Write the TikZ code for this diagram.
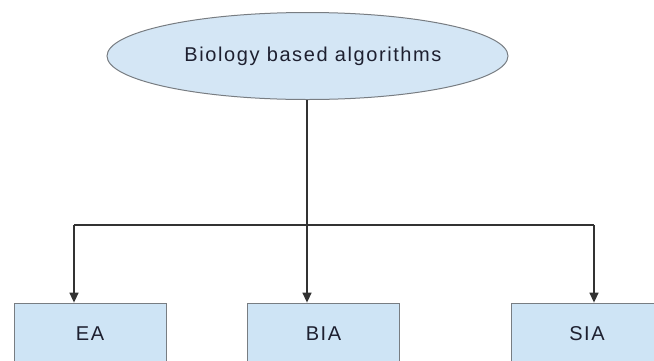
\documentclass[tikz,border=0pt]{standalone}
\usepackage{fontspec}
\setmainfont{Liberation Sans}[LetterSpace=8]
\usetikzlibrary{arrows.meta,shapes.geometric}
\definecolor{ellfill}{RGB}{212,230,245}
\definecolor{boxfill}{RGB}{206,228,245}
\definecolor{edgegrey}{RGB}{120,125,130}
\definecolor{linegrey}{RGB}{50,50,50}
\definecolor{txt}{RGB}{30,32,48}
\tikzset{
  rootell/.style={ellipse, draw=edgegrey, fill=ellfill, line width=1pt, minimum width=401pt, minimum height=87pt, inner sep=0pt, text=txt, font=\fontsize{20pt}{24pt}\selectfont},
  leafbox/.style={rectangle, draw=edgegrey, fill=boxfill, line width=0.8pt, minimum width=152pt, minimum height=62pt, inner sep=0pt, text=txt, font=\fontsize{20pt}{24pt}\selectfont},
  conn/.style={draw=linegrey, line width=1.4pt},
  arr/.style={conn, -{Triangle[length=10pt,width=9pt]}}
}
\begin{document}
\begin{tikzpicture}[x=1pt,y=-1pt]
\useasboundingbox (0,0) rectangle (654,360);
\begin{scope}
\clip (0,0) rectangle (654,360);
\node[rootell] (root) at (307.5,56) {\makebox[0pt]{\kern11pt Biology based algorithms}};
\node[leafbox] (ea) at (90,334) {EA};
\node[leafbox] (bia) at (323.5,334) {BIA};
\node[leafbox] (sia) at (587,334) {SIA};
\coordinate (j) at (307,225);
\coordinate (cl) at (74,225);
\coordinate (cr) at (594,225);
\draw[conn] (root.south -| j) -- (j);
\draw[conn] (cl) -- (cr);
\draw[arr] (cl) -- (ea.north -| cl);
\draw[arr] (j) -- (bia.north -| j);
\draw[arr] (cr) -- (sia.north -| cr);
\end{scope}
\end{tikzpicture}
\end{document}
